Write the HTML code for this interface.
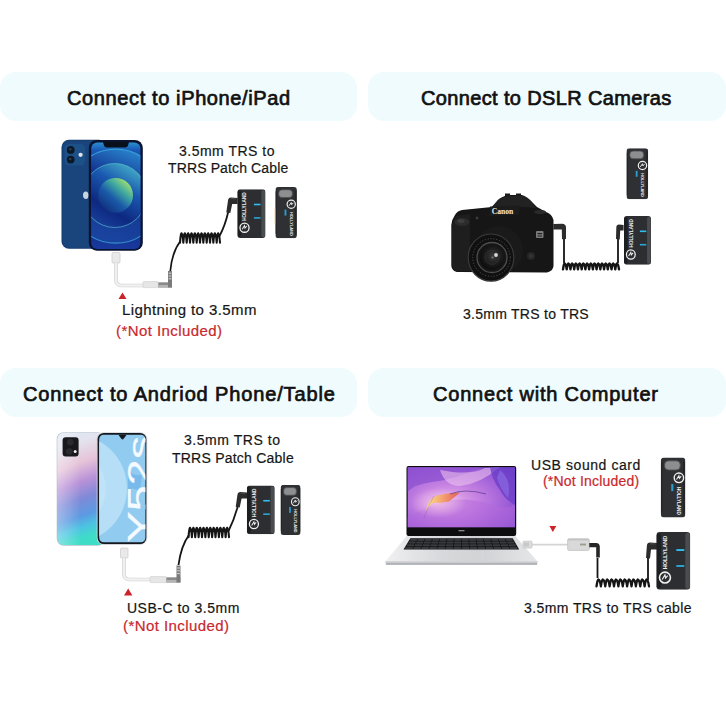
<!DOCTYPE html>
<html><head><meta charset="utf-8">
<style>
html,body{margin:0;padding:0;background:#fff;}
body{width:726px;height:726px;position:relative;overflow:hidden;font-family:"Liberation Sans",sans-serif;}
.pill{position:absolute;background:#effbfd;border-radius:16px;}
.h{position:absolute;font-weight:400;font-size:20px;line-height:20px;color:#111;white-space:nowrap;-webkit-text-stroke:0.7px #111;}
.t{position:absolute;font-size:14px;line-height:14px;color:#161616;white-space:nowrap;-webkit-text-stroke:0.2px currentColor;}
.r{color:#c9282e;}
.abs{position:absolute;}
</style></head><body>
<div class="pill" style="left:0;top:72px;width:357px;height:49px"></div>
<div class="pill" style="left:368px;top:72px;width:358px;height:49px"></div>
<div class="pill" style="left:0;top:368px;width:357px;height:49px"></div>
<svg class="abs" style="left:0;top:0" width="726" height="726" viewBox="0 0 726 726">
<defs>
<symbol id="rx" viewBox="0 0 34 58" preserveAspectRatio="none">
  <rect x="0" y="0" width="34" height="58" rx="3.5" fill="#2c2e31"/>
  <rect x="0" y="1.5" width="4.5" height="55" rx="2" fill="#1c1e20"/>
  <rect x="29" y="1" width="4.6" height="56" rx="1.8" fill="#4a4d50"/>
  <rect x="20" y="17.2" width="8" height="1.9" fill="#30bdf0"/>
  <rect x="20" y="33.2" width="8" height="1.9" fill="#2aa6d6"/>
  <text x="0" y="0" transform="translate(10.8,20.6) rotate(-90)" font-family="Liberation Sans" font-weight="700" font-size="5.6" fill="#f0f0f0" text-anchor="middle">HOLLYLAND</text>
  <circle cx="8.6" cy="45.8" r="5.5" fill="none" stroke="#f0f0f0" stroke-width="1.6"/>
  <path d="M5.8,47.7 L8.6,43.2 L9.2,46.3 L11.4,43.8" fill="none" stroke="#f0f0f0" stroke-width="1.2"/>
</symbol>
<symbol id="tx" viewBox="0 0 25 60" preserveAspectRatio="none">
  <rect x="0" y="0" width="25" height="60" rx="3.5" fill="#2e3033"/>
  <rect x="0" y="5" width="1.6" height="50" fill="#232528"/>
  <rect x="22.6" y="4" width="2" height="52" fill="#242628"/>
  <rect x="3.8" y="3.2" width="16" height="9.2" rx="4" fill="#8c8e90" stroke="#4a4c4e" stroke-width="0.9"/>
  <circle cx="18.4" cy="20.2" r="4.8" fill="none" stroke="#f0f0f0" stroke-width="1.4"/>
  <path d="M15.9,21.9 L18.4,18.1 L18.9,20.8 L20.8,18.6" fill="none" stroke="#f0f0f0" stroke-width="1.05"/>
  <rect x="10.6" y="26.5" width="2.2" height="7" fill="#2a9ccc"/>
  <text x="0" y="0" transform="translate(16.5,43.2) rotate(90)" font-family="Liberation Sans" font-weight="700" font-size="4.6" fill="#f0f0f0" text-anchor="middle">HOLLYLAND</text>
</symbol>
<radialGradient id="scr1" cx="0.5" cy="0.5" r="0.75">
  <stop offset="0" stop-color="#2a9bd8"/><stop offset="0.6" stop-color="#1a5fc0"/><stop offset="1" stop-color="#0b2a7a"/>
</radialGradient>
<radialGradient id="grn" cx="0.45" cy="0.45" r="0.6">
  <stop offset="0" stop-color="#6fd39a"/><stop offset="0.6" stop-color="#2fb0a8"/><stop offset="1" stop-color="#1a88c0"/>
</radialGradient>
<linearGradient id="back2" x1="0" y1="0" x2="0.15" y2="1"><stop offset="0" stop-color="#dfe8f3"/><stop offset="0.15" stop-color="#e3e3ee"/><stop offset="0.33" stop-color="#e6c3d8"/><stop offset="0.5" stop-color="#b891d8"/><stop offset="0.65" stop-color="#7f8ad8"/><stop offset="0.8" stop-color="#5b9ae2"/><stop offset="0.9" stop-color="#4cc4e2"/><stop offset="1" stop-color="#3fdcc8"/></linearGradient>
<linearGradient id="scr2" x1="0" y1="0" x2="1" y2="1">
  <stop offset="0" stop-color="#a9d8f4"/><stop offset="0.5" stop-color="#8fcbf0"/><stop offset="1" stop-color="#a6d7f3"/>
</linearGradient>
<linearGradient id="lap" x1="0" y1="0" x2="1" y2="1">
  <stop offset="0" stop-color="#9d6fd8"/><stop offset="0.35" stop-color="#c98ae0"/><stop offset="0.55" stop-color="#b36ad6"/><stop offset="1" stop-color="#6d52c8"/>
</linearGradient>
<linearGradient id="silver" x1="0" y1="0" x2="1" y2="0"><stop offset="0" stop-color="#f0f0f2"/><stop offset="0.35" stop-color="#d9dadd"/><stop offset="0.6" stop-color="#cfd0d3"/><stop offset="1" stop-color="#e6e7e9"/></linearGradient>
<linearGradient id="sbg" x1="0" y1="0" x2="0" y2="1"><stop offset="0" stop-color="#2c9ad6"/><stop offset="0.08" stop-color="#1a5ab8"/><stop offset="0.3" stop-color="#12308a"/><stop offset="0.7" stop-color="#0f2a80"/><stop offset="1" stop-color="#1a3aa0"/></linearGradient>
<linearGradient id="cg1" x1="0.7" y1="0" x2="0.3" y2="1"><stop offset="0" stop-color="#2a88d0"/><stop offset="0.35" stop-color="#123390"/><stop offset="1" stop-color="#1a46a0"/></linearGradient>
<linearGradient id="cg2" x1="0.8" y1="0" x2="0.2" y2="1"><stop offset="0" stop-color="#4ab8c8"/><stop offset="0.35" stop-color="#1a58b0"/><stop offset="0.7" stop-color="#0e2880"/><stop offset="1" stop-color="#1a44a0"/></linearGradient>
<linearGradient id="cg3" x1="0.85" y1="0.1" x2="0.15" y2="0.9"><stop offset="0" stop-color="#a0e070"/><stop offset="0.3" stop-color="#40a8a0"/><stop offset="0.6" stop-color="#1a5aa8"/><stop offset="1" stop-color="#10307e"/></linearGradient>
<radialGradient id="glass" cx="0.55" cy="0.45" r="0.6"><stop offset="0" stop-color="#3c3c3c"/><stop offset="0.6" stop-color="#1a1a1a"/><stop offset="1" stop-color="#0a0a0a"/></radialGradient>
<linearGradient id="shade2" x1="0" y1="0" x2="1" y2="0"><stop offset="0" stop-color="#ffffff" stop-opacity="0.35"/><stop offset="0.5" stop-color="#ffffff" stop-opacity="0"/><stop offset="1" stop-color="#ffffff" stop-opacity="0"/></linearGradient>
<radialGradient id="lapbg" cx="0.38" cy="0.55" r="0.75"><stop offset="0" stop-color="#e6b0ea"/><stop offset="0.35" stop-color="#c682e2"/><stop offset="0.7" stop-color="#a060d8"/><stop offset="1" stop-color="#7a48cc"/></radialGradient>
<linearGradient id="flame" x1="0" y1="0" x2="1" y2="0"><stop offset="0" stop-color="#fbe48a"/><stop offset="0.5" stop-color="#f4a070"/><stop offset="1" stop-color="#e05a5a"/></linearGradient>
<radialGradient id="pinkglow"><stop offset="0" stop-color="#f6c8ea" stop-opacity="0.8"/><stop offset="1" stop-color="#f6c8ea" stop-opacity="0"/></radialGradient>
</defs>
<rect x="61.5" y="139.8" width="45" height="109" rx="7.5" fill="#143c6e"/>
<rect x="62.5" y="140.8" width="43" height="107" rx="6.5" fill="#19457c"/>
<rect x="64.5" y="144" width="20.5" height="21.5" rx="4.5" fill="#1e5088"/>
<circle cx="70.7" cy="149.9" r="3.9" fill="#0c1826"/><circle cx="70.7" cy="159.6" r="3.9" fill="#0c1826"/>
<circle cx="70.2" cy="149.2" r="1.3" fill="#2a3a50"/><circle cx="70.2" cy="159" r="1.3" fill="#2a3a50"/>
<circle cx="80.6" cy="154.8" r="2.1" fill="#dfe4ea"/>
<path d="M85.8,191.5 Q88.5,191.5 88.5,195 Q88.5,199 86,199 Q83,199 83,195 Q83,191.5 85.8,191.5 Z" fill="#c9d3df"/>
<rect x="88.8" y="140" width="54" height="110.7" rx="8" fill="#0a1430"/>
<clipPath id="c1"><rect x="91.2" y="142.4" width="49.2" height="106.5" rx="6"/></clipPath>
<g clip-path="url(#c1)">
<rect x="90" y="141" width="52" height="110" fill="url(#sbg)"/>
<circle cx="115.6" cy="196.2" r="47" fill="url(#cg1)"/>
<circle cx="115.6" cy="196.2" r="47" fill="none" stroke="#3fb4e0" stroke-width="1.2" opacity="0.7"/>
<circle cx="114.8" cy="195.5" r="32" fill="url(#cg2)"/>
<circle cx="114.8" cy="195.5" r="32" fill="none" stroke="#5ccbd0" stroke-width="1" opacity="0.6"/>
<circle cx="115.6" cy="195.3" r="17.4" fill="url(#cg3)"/>
</g>
<path d="M103,142 L129,142 L128,145.5 Q127.5,147.5 125,147.5 L107,147.5 Q104.5,147.5 104,145.5 Z" fill="#0a0f1c"/>
<rect x="112" y="252.5" width="8" height="10.5" rx="1" fill="#e9e9e9" stroke="#cfcfcf" stroke-width="0.8"/>
<path d="M116,263 L116,280 Q116,285.5 121.5,285.5 L145,285.5" fill="none" stroke="#d0d0d0" stroke-width="3.6"/>
<path d="M116,263 L116,280 Q116,285.5 121.5,285.5 L145,285.5" fill="none" stroke="#f0f0f0" stroke-width="2.4"/>
<rect x="143" y="281.6" width="15.5" height="6" rx="1" fill="#e6e6e6" stroke="#cdcdcd" stroke-width="0.6"/>
<rect x="158.4" y="282.3" width="13.4" height="5.2" fill="#8a8a8a"/>
<rect x="158.4" y="285" width="10" height="2.5" fill="#b4b4b4"/>
<rect x="168" y="271" width="4" height="16.5" fill="#7a7a7a"/>
<rect x="168.6" y="272.7" width="2.8" height="1" fill="#d8d8d8"/><rect x="168.6" y="275.5" width="2.8" height="1" fill="#d8d8d8"/><rect x="168.6" y="278.3" width="2.8" height="1" fill="#d8d8d8"/>
<path d="M170.3,271 Q172,252 180.5,241" fill="none" stroke="#151515" stroke-width="1.7"/>
<path d="M180.00,242.70 Q180.83,232.50 181.67,233.30 Q182.67,233.30 183.33,242.70 Q184.17,232.50 185.00,233.30 Q186.00,233.30 186.67,242.70 Q187.50,232.50 188.33,233.30 Q189.33,233.30 190.00,242.70 Q190.83,232.50 191.67,233.30 Q192.67,233.30 193.33,242.70 Q194.17,232.50 195.00,233.30 Q196.00,233.30 196.67,242.70 Q197.50,232.50 198.33,233.30 Q199.33,233.30 200.00,242.70 Q200.83,232.50 201.67,233.30 Q202.67,233.30 203.33,242.70 Q204.17,232.50 205.00,233.30 Q206.00,233.30 206.67,242.70 Q207.50,232.50 208.33,233.30 Q209.33,233.30 210.00,242.70 Q210.83,232.50 211.67,233.30 Q212.67,233.30 213.33,242.70 Q214.17,232.50 215.00,233.30 Q216.00,233.30 216.67,242.70 Q217.50,232.50 218.33,233.30 Q219.33,233.30 220.00,242.70 " fill="none" stroke="#151515" stroke-width="2.1" stroke-linejoin="round" stroke-linecap="round"/>
<path d="M219.5,236 Q225,226 228.2,212" fill="none" stroke="#151515" stroke-width="1.8"/>
<path d="M237.6,198 L231,197.5 Q228.3,197.6 228,200.5 L226.3,212.5 L230.3,213 L232.2,204 L237.6,204 Z" fill="#2c2c2c"/>
<path d="M231,198.6 L236,198.8" stroke="#555" stroke-width="0.8"/>
<use href="#rx" x="237.4" y="189.3" width="28.1" height="48.6"/>
<use href="#tx" x="275.4" y="187" width="21.5" height="51.2"/>
<rect x="274.6" y="208" width="1.2" height="16" fill="#e8a030" opacity="0.5"/><path d="M455,215 Q452,219 451.3,225 L451.3,266 Q452,271 457,272 L547,272.6 Q553,271 553.5,266 L553.5,220 Q552,214 546,212 L537,207 L533,203 Q528,197 522,195 L508,195 Q501,197 498,200 L492,207 L462,210 Q457,211 455,215 Z" fill="#161616"/>
<path d="M452,230 Q452,222 456,216 L470,214 L470,271 L457,271.5 Q452,270 452,265 Z" fill="#1e1e1e"/>
<ellipse cx="462" cy="222" rx="7.5" ry="4" fill="#2c2c2c"/>
<ellipse cx="461" cy="221" rx="3.5" ry="2" fill="#3e3e3e"/>
<circle cx="477" cy="218" r="1.5" fill="#3a3a3a"/>
<path d="M492,207 L498,200 Q503,196.5 508,196 L522,196 Q529,198 533,204 L536,208 Q520,205.5 492,207 Z" fill="#222"/>
<rect x="505" y="193.5" width="5" height="2.5" fill="#1a1a1a"/><rect x="516" y="193.5" width="5" height="2.5" fill="#1a1a1a"/>
<path d="M490,206.5 L520,205.5 L519,215 L489,216 Z" fill="#1c1c1c"/>
<text x="502.5" y="213.6" font-family="Liberation Serif" font-weight="700" font-size="7.6" fill="#f0f0f0" text-anchor="middle">Canon</text>
<rect x="536" y="231" width="7.5" height="7" rx="1" fill="#cfcfcf" opacity="0.55"/>
<rect x="537.5" y="233" width="4.5" height="1.2" fill="#222"/><rect x="537.5" y="235.5" width="4.5" height="1" fill="#222"/>
<ellipse cx="540" cy="212" rx="6" ry="2" fill="#2a2a2a"/>
<ellipse cx="499" cy="250" rx="24" ry="24" fill="#1a1a1a"/>
<ellipse cx="491" cy="257.6" rx="22.8" ry="23.6" fill="#101010" stroke="#3a3a3a" stroke-width="1.2"/>
<circle cx="491.5" cy="257.5" r="18.8" fill="none" stroke="#8a8a8a" stroke-width="0.9" stroke-dasharray="1.1 1.8" opacity="0.55"/>
<circle cx="492" cy="257.5" r="15" fill="#161616" stroke="#4e4e4e" stroke-width="1.3"/>
<circle cx="492" cy="257.3" r="12.3" fill="url(#glass)"/>
<circle cx="492" cy="257.3" r="7" fill="none" stroke="#2e2e2e" stroke-width="1"/>
<circle cx="496" cy="255" r="1.9" fill="#d8d8d8"/>
<circle cx="492.5" cy="257.5" r="1.1" fill="#777"/>
<circle cx="531" cy="256" r="4" fill="#262626"/>
<circle cx="531" cy="256" r="2" fill="#333"/>
<path d="M553.3,224 L562,223.7 Q565.8,224 566,227 L566,239 L562,239.3 L561.8,229.6 L553.3,229.6 Z" fill="#2c2c2c"/>
<path d="M564,239 L564,263" fill="none" stroke="#151515" stroke-width="1.8"/>
<path d="M563.00,269.30 Q563.93,262.90 564.87,263.70 Q565.99,263.70 566.73,269.30 Q567.67,262.90 568.60,263.70 Q569.72,263.70 570.47,269.30 Q571.40,262.90 572.33,263.70 Q573.45,263.70 574.20,269.30 Q575.13,262.90 576.07,263.70 Q577.19,263.70 577.93,269.30 Q578.87,262.90 579.80,263.70 Q580.92,263.70 581.67,269.30 Q582.60,262.90 583.53,263.70 Q584.65,263.70 585.40,269.30 Q586.33,262.90 587.27,263.70 Q588.39,263.70 589.13,269.30 Q590.07,262.90 591.00,263.70 Q592.12,263.70 592.87,269.30 Q593.80,262.90 594.73,263.70 Q595.85,263.70 596.60,269.30 Q597.53,262.90 598.47,263.70 Q599.59,263.70 600.33,269.30 Q601.27,262.90 602.20,263.70 Q603.32,263.70 604.07,269.30 Q605.00,262.90 605.93,263.70 Q607.05,263.70 607.80,269.30 Q608.73,262.90 609.67,263.70 Q610.79,263.70 611.53,269.30 Q612.47,262.90 613.40,263.70 Q614.52,263.70 615.27,269.30 Q616.20,262.90 617.13,263.70 Q618.25,263.70 619.00,269.30 " fill="none" stroke="#151515" stroke-width="2.4" stroke-linejoin="round" stroke-linecap="round"/>
<path d="M618,263 L618,232" fill="none" stroke="#151515" stroke-width="1.8"/>
<path d="M623.6,225 L619,224.6 Q616.5,224.7 616.3,227.4 L616,239 L619.8,239.4 L620.2,230.6 L623.6,230.6 Z" fill="#2c2c2c"/>
<use href="#rx" x="624" y="216.1" width="27" height="48.6"/>
<use href="#tx" x="626.5" y="148.3" width="21.7" height="51"/><rect x="56.7" y="432.2" width="48" height="113.5" rx="7" fill="#b9c2cc"/>
<rect x="57.4" y="432.8" width="47" height="112.3" rx="6.5" fill="url(#back2)"/>
<rect x="57.4" y="432.8" width="47" height="112.3" rx="6.5" fill="url(#shade2)"/>
<rect x="62.6" y="437.3" width="16" height="19.3" rx="3" fill="#19191c"/>
<circle cx="70.2" cy="442.3" r="3.3" fill="#2a2a30"/><circle cx="69.3" cy="451.5" r="3.3" fill="#2a2a30"/><circle cx="75.2" cy="451.5" r="1.5" fill="#eee"/>
<rect x="96.7" y="432.2" width="50.5" height="112.7" rx="7" fill="#cfd3d8"/>
<rect x="97.6" y="433" width="48.7" height="111" rx="6.3" fill="#15181e"/>
<clipPath id="c2"><rect x="99.2" y="434.7" width="46.2" height="107.6" rx="4.5"/></clipPath>
<g clip-path="url(#c2)">
<rect x="99" y="434" width="47" height="109" fill="#92cbf0"/>
<circle cx="72.6" cy="488.5" r="54.4" fill="#b6def6"/>
<circle cx="66" cy="488.5" r="40" fill="#c6e6f9" opacity="0.6"/>
<path d="M128,470 Q136,478 142,474 L140,492 Q134,486 128,490 Z" fill="#6fb2ea" opacity="0.7"/>
<text x="0" y="0" transform="translate(150.5,542.5) rotate(-90) scale(1.42,1)" font-family="Liberation Sans" font-size="33" fill="#f4faff" stroke="#f4faff" stroke-width="0.2">Y52s</text>
</g>
<path d="M118.5,434.7 L126.5,434.7 Q123.5,439.5 122.5,439.5 Q121.5,439.5 118.5,434.7 Z" fill="#15181e"/>
<rect x="120.5" y="548" width="7.5" height="10" rx="1" fill="#e9e9e9" stroke="#cfcfcf" stroke-width="0.8"/>
<path d="M124,558 L124,574 Q124,579.5 129.5,579.5 L152,579.5" fill="none" stroke="#d0d0d0" stroke-width="3.6"/>
<path d="M124,558 L124,574 Q124,579.5 129.5,579.5 L152,579.5" fill="none" stroke="#f0f0f0" stroke-width="2.4"/>
<rect x="150" y="576.6" width="16.5" height="6" rx="1" fill="#e6e6e6" stroke="#cdcdcd" stroke-width="0.6"/>
<rect x="166.4" y="577.3" width="14" height="5.2" fill="#8a8a8a"/>
<rect x="166.4" y="580" width="10.5" height="2.5" fill="#b4b4b4"/>
<rect x="176.5" y="565.5" width="4" height="17" fill="#7a7a7a"/>
<rect x="177.1" y="567.5" width="2.8" height="1" fill="#d8d8d8"/><rect x="177.1" y="570.3" width="2.8" height="1" fill="#d8d8d8"/><rect x="177.1" y="573.1" width="2.8" height="1" fill="#d8d8d8"/>
<path d="M178.5,565 Q181,546 189,535" fill="none" stroke="#151515" stroke-width="1.8"/>
<path d="M188.50,537.20 Q189.34,527.00 190.19,527.80 Q191.20,527.80 191.88,537.20 Q192.72,527.00 193.56,527.80 Q194.57,527.80 195.25,537.20 Q196.09,527.00 196.94,527.80 Q197.95,527.80 198.62,537.20 Q199.47,527.00 200.31,527.80 Q201.32,527.80 202.00,537.20 Q202.84,527.00 203.69,527.80 Q204.70,527.80 205.38,537.20 Q206.22,527.00 207.06,527.80 Q208.07,527.80 208.75,537.20 Q209.59,527.00 210.44,527.80 Q211.45,527.80 212.12,537.20 Q212.97,527.00 213.81,527.80 Q214.82,527.80 215.50,537.20 Q216.34,527.00 217.19,527.80 Q218.20,527.80 218.88,537.20 Q219.72,527.00 220.56,527.80 Q221.57,527.80 222.25,537.20 Q223.09,527.00 223.94,527.80 Q224.95,527.80 225.62,537.20 Q226.47,527.00 227.31,527.80 Q228.32,527.80 229.00,537.20 " fill="none" stroke="#151515" stroke-width="2.1" stroke-linejoin="round" stroke-linecap="round"/>
<path d="M228.5,531 Q234,520 237.6,507" fill="none" stroke="#151515" stroke-width="1.8"/>
<path d="M247,492.5 L240.4,492 Q237.7,492.1 237.4,495 L235.7,507 L239.7,507.5 L241.6,498.5 L247,498.5 Z" fill="#2c2c2c"/>
<path d="M240.4,493.1 L245.4,493.3" stroke="#555" stroke-width="0.8"/>
<use href="#rx" x="246.9" y="485.5" width="27.8" height="48.7"/>
<use href="#tx" x="280.6" y="484.9" width="20" height="50.1"/><path d="M407,535.8 L515,535.8 L537.6,561.5 L385.3,561.5 Z" fill="url(#silver)"/>
<path d="M385.3,561.3 L537.6,561.3 L537.2,564.6 L385.8,564.6 Z" fill="#c9cbce"/>
<path d="M386,563.3 L537,563.3 L537,564.8 L386,564.8 Z" fill="#a9abae"/>
<path d="M410.3,538.2 L512.7,538.2 L519.2,549.6 L403.5,549.6 Z" fill="#141517"/>
<rect x="410.35" y="538.80" width="6.56" height="2" fill="#3a3b3f"/><rect x="417.71" y="538.80" width="6.56" height="2" fill="#3a3b3f"/><rect x="425.07" y="538.80" width="6.56" height="2" fill="#3a3b3f"/><rect x="432.43" y="538.80" width="6.56" height="2" fill="#3a3b3f"/><rect x="439.79" y="538.80" width="6.56" height="2" fill="#3a3b3f"/><rect x="447.16" y="538.80" width="6.56" height="2" fill="#3a3b3f"/><rect x="454.52" y="538.80" width="6.56" height="2" fill="#3a3b3f"/><rect x="461.88" y="538.80" width="6.56" height="2" fill="#3a3b3f"/><rect x="469.24" y="538.80" width="6.56" height="2" fill="#3a3b3f"/><rect x="476.60" y="538.80" width="6.56" height="2" fill="#3a3b3f"/><rect x="483.96" y="538.80" width="6.56" height="2" fill="#3a3b3f"/><rect x="491.33" y="538.80" width="6.56" height="2" fill="#3a3b3f"/><rect x="498.69" y="538.80" width="6.56" height="2" fill="#3a3b3f"/><rect x="506.05" y="538.80" width="6.56" height="2" fill="#3a3b3f"/><rect x="408.71" y="541.55" width="6.79" height="2" fill="#3a3b3f"/><rect x="416.30" y="541.55" width="6.79" height="2" fill="#3a3b3f"/><rect x="423.89" y="541.55" width="6.79" height="2" fill="#3a3b3f"/><rect x="431.48" y="541.55" width="6.79" height="2" fill="#3a3b3f"/><rect x="439.07" y="541.55" width="6.79" height="2" fill="#3a3b3f"/><rect x="446.66" y="541.55" width="6.79" height="2" fill="#3a3b3f"/><rect x="454.25" y="541.55" width="6.79" height="2" fill="#3a3b3f"/><rect x="461.84" y="541.55" width="6.79" height="2" fill="#3a3b3f"/><rect x="469.43" y="541.55" width="6.79" height="2" fill="#3a3b3f"/><rect x="477.02" y="541.55" width="6.79" height="2" fill="#3a3b3f"/><rect x="484.62" y="541.55" width="6.79" height="2" fill="#3a3b3f"/><rect x="492.21" y="541.55" width="6.79" height="2" fill="#3a3b3f"/><rect x="499.80" y="541.55" width="6.79" height="2" fill="#3a3b3f"/><rect x="507.39" y="541.55" width="6.79" height="2" fill="#3a3b3f"/><rect x="407.06" y="544.30" width="7.02" height="2" fill="#3a3b3f"/><rect x="414.89" y="544.30" width="7.02" height="2" fill="#3a3b3f"/><rect x="422.71" y="544.30" width="7.02" height="2" fill="#3a3b3f"/><rect x="430.53" y="544.30" width="7.02" height="2" fill="#3a3b3f"/><rect x="438.35" y="544.30" width="7.02" height="2" fill="#3a3b3f"/><rect x="446.17" y="544.30" width="7.02" height="2" fill="#3a3b3f"/><rect x="453.99" y="544.30" width="7.02" height="2" fill="#3a3b3f"/><rect x="461.81" y="544.30" width="7.02" height="2" fill="#3a3b3f"/><rect x="469.63" y="544.30" width="7.02" height="2" fill="#3a3b3f"/><rect x="477.45" y="544.30" width="7.02" height="2" fill="#3a3b3f"/><rect x="485.27" y="544.30" width="7.02" height="2" fill="#3a3b3f"/><rect x="493.09" y="544.30" width="7.02" height="2" fill="#3a3b3f"/><rect x="500.91" y="544.30" width="7.02" height="2" fill="#3a3b3f"/><rect x="508.73" y="544.30" width="7.02" height="2" fill="#3a3b3f"/><rect x="405.42" y="547.05" width="7.25" height="2" fill="#3a3b3f"/><rect x="413.47" y="547.05" width="7.25" height="2" fill="#3a3b3f"/><rect x="421.52" y="547.05" width="7.25" height="2" fill="#3a3b3f"/><rect x="429.57" y="547.05" width="7.25" height="2" fill="#3a3b3f"/><rect x="437.62" y="547.05" width="7.25" height="2" fill="#3a3b3f"/><rect x="445.67" y="547.05" width="7.25" height="2" fill="#3a3b3f"/><rect x="453.72" y="547.05" width="7.25" height="2" fill="#3a3b3f"/><rect x="461.77" y="547.05" width="7.25" height="2" fill="#3a3b3f"/><rect x="469.82" y="547.05" width="7.25" height="2" fill="#3a3b3f"/><rect x="477.87" y="547.05" width="7.25" height="2" fill="#3a3b3f"/><rect x="485.92" y="547.05" width="7.25" height="2" fill="#3a3b3f"/><rect x="493.97" y="547.05" width="7.25" height="2" fill="#3a3b3f"/><rect x="502.02" y="547.05" width="7.25" height="2" fill="#3a3b3f"/><rect x="510.07" y="547.05" width="7.25" height="2" fill="#3a3b3f"/>
<path d="M440,551 L484,551 L485,560.5 L439,560.5 Z" fill="#d6d7da" opacity="0.5"/>
<rect x="406.5" y="466" width="109.7" height="70" rx="2" fill="#0d0d10"/>
<clipPath id="c3"><rect x="407.7" y="467.2" width="107.3" height="60"/></clipPath>
<g clip-path="url(#c3)">
<rect x="407" y="467" width="109" height="61" fill="url(#lapbg)"/>
<path d="M407,467 L480,467 Q455,480 432,482 Q415,484 407,492 Z" fill="#8e50d0" opacity="0.75"/>
<path d="M440,470 Q470,476 485,468 L500,467 Q480,484 460,486 Q445,486 440,470 Z" fill="#f0c8ef" opacity="0.55"/>
<path d="M407,518 Q430,505 450,500 Q470,498 490,504 Q505,510 515,505 L515,528 L407,528 Z" fill="#b468dc" opacity="0.5"/>
<path d="M490,467 L515,467 L515,505 Q505,500 500,490 Q492,480 490,467 Z" fill="#6a3ec8" opacity="0.75"/>
<path d="M500,470 Q512,480 508,498 Q500,488 497,478 Z" fill="#8a6ae0" opacity="0.7"/>
<ellipse cx="438" cy="503" rx="28" ry="15" fill="url(#pinkglow)"/>
<path d="M426,511 Q428,499 437,495.5 Q447,493 460,492.5 Q454,497.5 449,501.5 Q441,503 433,503 Q429,505 426,511 Z" fill="url(#flame)"/>
<path d="M450,494 Q465,488 486,494" fill="none" stroke="#3c2a70" stroke-width="0.7" opacity="0.8"/>
<path d="M424,518 Q428,505 434,496" fill="none" stroke="#7a50b0" stroke-width="0.5" opacity="0.6"/>
</g>
<rect x="458.5" y="530" width="6" height="1.3" fill="#888"/>
<rect x="523" y="541.2" width="9" height="6.8" rx="0.8" fill="#dedede" stroke="#b9b9b9" stroke-width="0.6"/>
<rect x="524" y="542.5" width="5" height="4" fill="#c8c8c8"/>
<path d="M531.6,544.6 L567.6,544.6" stroke="#d4d4d4" stroke-width="1.8"/>
<rect x="567.6" y="538.7" width="21.7" height="11.7" rx="1.5" fill="#d9d9d9" stroke="#bdbdbd" stroke-width="0.7"/>
<rect x="568" y="538.9" width="21" height="1.6" fill="#c4c4c4"/>
<rect x="580" y="543.6" width="6" height="1.8" fill="#8f8a78" opacity="0.8"/>
<path d="M589.3,543 L596,543 Q599.8,543.2 599.8,547 L599.8,557.5 L596.2,557.5 L596.2,547.3 L589.3,547.3 Z" fill="#262626"/>
<path d="M597.5,558 L597.5,578" fill="none" stroke="#151515" stroke-width="1.8"/>
<path d="M596.50,586.35 Q597.59,578.85 598.69,579.65 Q600.00,579.65 600.88,586.35 Q601.97,578.85 603.06,579.65 Q604.38,579.65 605.25,586.35 Q606.34,578.85 607.44,579.65 Q608.75,579.65 609.62,586.35 Q610.72,578.85 611.81,579.65 Q613.12,579.65 614.00,586.35 Q615.09,578.85 616.19,579.65 Q617.50,579.65 618.38,586.35 Q619.47,578.85 620.56,579.65 Q621.88,579.65 622.75,586.35 Q623.84,578.85 624.94,579.65 Q626.25,579.65 627.12,586.35 Q628.22,578.85 629.31,579.65 Q630.62,579.65 631.50,586.35 Q632.59,578.85 633.69,579.65 Q635.00,579.65 635.88,586.35 Q636.97,578.85 638.06,579.65 Q639.38,579.65 640.25,586.35 Q641.34,578.85 642.44,579.65 Q643.75,579.65 644.62,586.35 Q645.72,578.85 646.81,579.65 Q648.12,579.65 649.00,586.35 " fill="none" stroke="#151515" stroke-width="2.3" stroke-linejoin="round" stroke-linecap="round"/>
<path d="M648,580 L648,557" fill="none" stroke="#151515" stroke-width="1.8"/>
<path d="M657,543 L650,542.6 Q647.2,542.7 646.9,545.6 L646,558 L650,558.5 L651,549.5 L657,549.5 Z" fill="#2c2c2c"/>
<path d="M650,543.8 L655.5,544" stroke="#555" stroke-width="0.8"/>
<use href="#rx" x="656.4" y="532" width="33.9" height="57.7"/>
<use href="#tx" x="660.8" y="457.6" width="24.6" height="60"/><path d="M118.5,299 L122.5,292.5 L126.5,299 Z" fill="#cc2229"/>
<path d="M124,595.5 L128.2,588.5 L132.4,595.5 Z" fill="#cc2229"/>
<path d="M549.4,526 L556.3,526 L552.85,532 Z" fill="#cc2229"/></svg>
<div class="pill" style="left:368px;top:368px;width:358px;height:49px"></div>

<div class="h" style="left:67px;top:88px;letter-spacing:0.62px">Connect to iPhone/iPad</div>
<div class="h" style="left:421px;top:88px;letter-spacing:0.36px">Connect to DSLR Cameras</div>
<div class="h" style="left:23px;top:384px;letter-spacing:0.86px">Connect to Andriod Phone/Table</div>
<div class="h" style="left:433px;top:384px;letter-spacing:0.8px">Connect with Computer</div>

<div class="t" style="left:179px;top:144px;letter-spacing:0.5px">3.5mm TRS to</div>
<div class="t" style="left:168px;top:161px;letter-spacing:0.13px">TRRS Patch Cable</div>
<div class="t" style="left:122px;top:302px;font-size:15px;line-height:15px;letter-spacing:0.4px">Lightning to 3.5mm</div>
<div class="t r" style="left:116px;top:323px;font-size:15px;line-height:15px;letter-spacing:0.43px">(*Not Included)</div>
<div class="t" style="left:463px;top:307px;letter-spacing:0.27px">3.5mm TRS to TRS</div>
<div class="t" style="left:184px;top:433px;letter-spacing:0.55px">3.5mm TRS to</div>
<div class="t" style="left:172px;top:451px;letter-spacing:0.23px">TRRS Patch Cable</div>
<div class="t" style="left:127px;top:601px;letter-spacing:0.5px">USB-C to 3.5mm</div>
<div class="t r" style="left:123px;top:618px;font-size:15px;line-height:15px;letter-spacing:0.43px">(*Not Included)</div>
<div class="t" style="left:531px;top:458px;letter-spacing:0.57px">USB sound card</div>
<div class="t r" style="left:543px;top:474px;letter-spacing:0.2px">(*Not Included)</div>
<div class="t" style="left:524px;top:601px;letter-spacing:0.41px">3.5mm TRS to TRS cable</div>
</body></html>
